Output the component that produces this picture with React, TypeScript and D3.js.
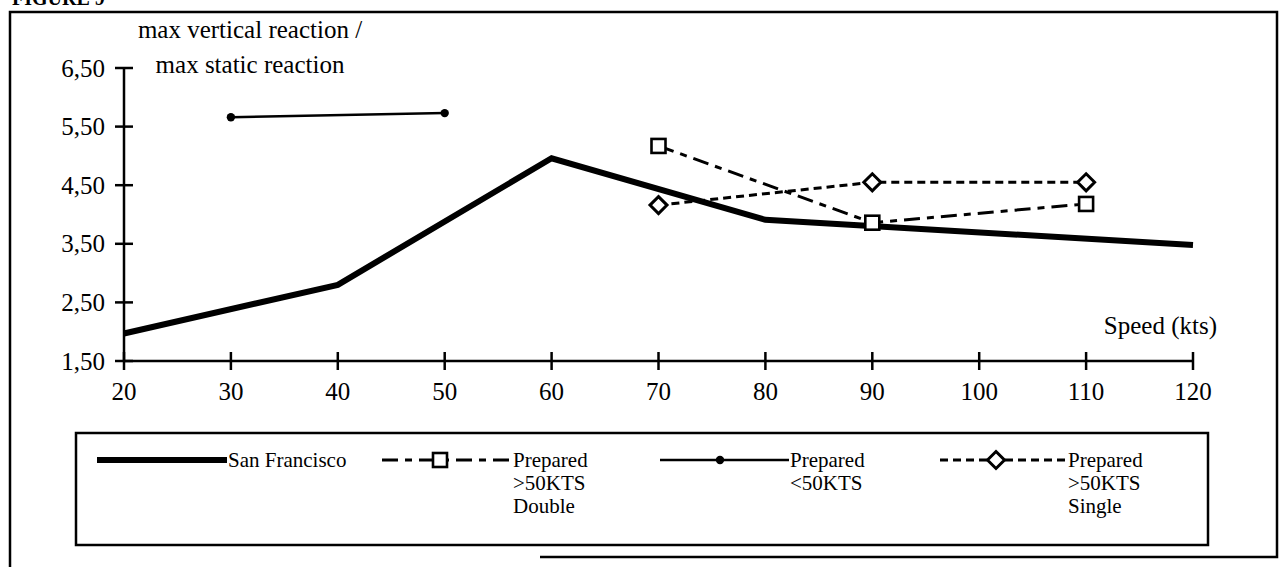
import React from "react";
import * as d3 from "d3";

const sfSpeed = [20, 40, 60, 80, 120];
const sfValue = [1.97, 2.8, 4.96, 3.91, 3.48];
const doubleSpeed = [70, 90, 110];
const doubleValue = [5.17, 3.86, 4.18];
const lowSpeed = [30, 50];
const lowValue = [5.66, 5.73];
const singleSpeed = [70, 90, 110];
const singleValue = [4.16, 4.55, 4.55];
const xTicks = [20, 30, 40, 50, 60, 70, 80, 90, 100, 110, 120];
const yTicks = [1.5, 2.5, 3.5, 4.5, 5.5, 6.5];
const yTickLabels = ["1,50", "2,50", "3,50", "4,50", "5,50", "6,50"];
const yTitle = ["max vertical reaction /", "max static reaction"];
const xTitle = "Speed (kts)";
const legendLabels = [["San Francisco"], ["Prepared", ">50KTS", "Double"], ["Prepared", "<50KTS"], ["Prepared", ">50KTS", "Single"]];

const W = 1282, H = 567;
const FONT = "'Liberation Serif', 'Times New Roman', serif";

export default function App() {
  const x = d3.scaleLinear().domain([20, 120]).range([124, 1193]);
  const y = d3.scaleLinear().domain([1.5, 6.5]).range([361, 68]);
  const line = (xs: number[], ys: number[]) =>
    d3.line<number>().x((_, i) => x(xs[i])).y((_, i) => y(ys[i]))(xs) as string;

  const square = (cx: number, cy: number, k: string) => (
    <rect key={k} x={cx - 7} y={cy - 7} width={14} height={14} fill="#fff" stroke="#000" strokeWidth={2.6} />
  );
  const diamond = (cx: number, cy: number, k: string) => (
    <path key={k} d={`M${cx},${cy - 8.5}L${cx + 8.5},${cy}L${cx},${cy + 8.5}L${cx - 8.5},${cy}Z`} fill="#fff" stroke="#000" strokeWidth={3} />
  );
  const dot = (cx: number, cy: number, k: string) => <circle key={k} cx={cx} cy={cy} r={4.2} fill="#000" />;

  const doubleDash = "16,7,7,7";
  const singleDash = "8,5";
  const legY = 460;
  const legTextX = [228, 513, 790, 1068];
  const legBase = 467;
  const legStep = 23;

  return (
    <svg width={W} height={H} style={{ position: "absolute", left: 0, top: 0, background: "#fff" }} fontFamily={FONT}>
      <rect x={0} y={0} width={W} height={H} fill="#fff" />
      <text x={12} y={5} fontSize={20} fontWeight="bold">FIGURE 9</text>
      {/* outer frame */}
      <path d={`M10,567 L10,12 L1277,12 L1277,557 L540,557`} fill="none" stroke="#000" strokeWidth={2.5} />

      {/* y axis */}
      <line x1={x(20)} x2={x(20)} y1={y(6.5)} y2={y(1.5)} stroke="#000" strokeWidth={2.5} />
      {yTicks.map((t, i) => (
        <g key={"yt" + i}>
          <line x1={x(20) - 9} x2={x(20) + 9} y1={y(t)} y2={y(t)} stroke="#000" strokeWidth={2.5} />
          <text x={105} y={y(t) + 8.5} fontSize={25} textAnchor="end">{yTickLabels[i]}</text>
        </g>
      ))}
      {/* x axis */}
      <line x1={x(20)} x2={x(120)} y1={y(1.5)} y2={y(1.5)} stroke="#000" strokeWidth={2.5} />
      {xTicks.map((t, i) => (
        <g key={"xt" + i}>
          <line x1={x(t)} x2={x(t)} y1={y(1.5) - 9} y2={y(1.5) + 9} stroke="#000" strokeWidth={2.5} />
          <text x={x(t)} y={400} fontSize={25} textAnchor="middle">{t}</text>
        </g>
      ))}
      <text x={1217} y={334} fontSize={25} textAnchor="end">{xTitle}</text>
      <text x={250} y={38} fontSize={25} textAnchor="middle">{yTitle[0]}</text>
      <text x={250} y={73} fontSize={25} textAnchor="middle">{yTitle[1]}</text>

      {/* series */}
      <path d={line(sfSpeed, sfValue)} fill="none" stroke="#000" strokeWidth={6} strokeLinejoin="miter" />
      <path d={line(lowSpeed, lowValue)} fill="none" stroke="#000" strokeWidth={2.5} />
      {lowSpeed.map((s, i) => dot(x(s), y(lowValue[i]), "ld" + i))}
      <path d={line(doubleSpeed, doubleValue)} fill="none" stroke="#000" strokeWidth={3} strokeDasharray={doubleDash} />
      <path d={line(singleSpeed, singleValue)} fill="none" stroke="#000" strokeWidth={3} strokeDasharray={singleDash} />
      {doubleSpeed.map((s, i) => square(x(s), y(doubleValue[i]), "ds" + i))}
      {singleSpeed.map((s, i) => diamond(x(s), y(singleValue[i]), "sd" + i))}

      {/* legend */}
      <rect x={76} y={433} width={1132} height={112} fill="none" stroke="#000" strokeWidth={2.5} />
      <line x1={97} x2={227} y1={legY} y2={legY} stroke="#000" strokeWidth={6} />
      <line x1={382} x2={511} y1={legY} y2={legY} stroke="#000" strokeWidth={3} strokeDasharray={doubleDash} />
      {square(440, legY, "lsq")}
      <line x1={660} x2={789} y1={legY} y2={legY} stroke="#000" strokeWidth={2.5} />
      {dot(720, legY, "ldot")}
      <line x1={940} x2={1065} y1={legY} y2={legY} stroke="#000" strokeWidth={3} strokeDasharray={singleDash} />
      {diamond(996, legY, "ldia")}
      {legendLabels.map((lines, j) =>
        lines.map((t, k) => (
          <text key={"lg" + j + k} x={legTextX[j]} y={legBase + k * legStep} fontSize={21}>{t}</text>
        ))
      )}
    </svg>
  );
}
